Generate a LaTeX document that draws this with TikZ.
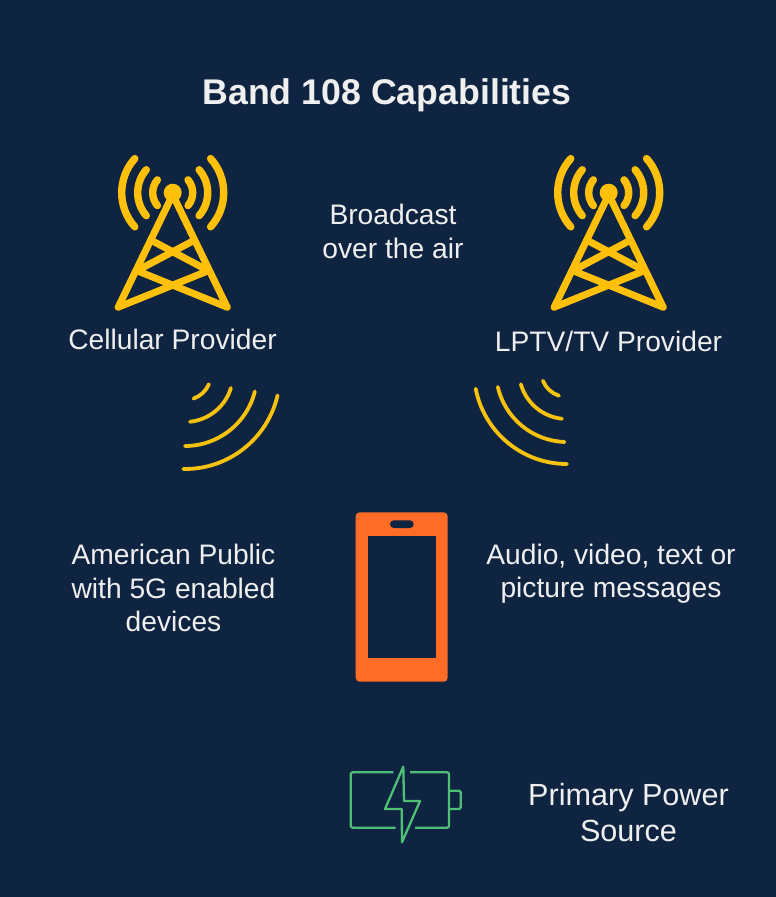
\documentclass[tikz,border=0pt]{standalone}
\usepackage{fontspec}
\setmainfont{Liberation Sans}
\definecolor{bgc}{HTML}{0E2440}
\definecolor{gold}{HTML}{FFC00A}
\definecolor{wave}{HTML}{F7C20E}
\definecolor{phone}{HTML}{FF6C25}
\definecolor{batt}{HTML}{4FBF76}
\definecolor{txt}{HTML}{EFEFEF}
\tikzset{
  lbl/.style={text=txt,align=center,font=\fontsize{28.2}{33.5}\selectfont,inner sep=0pt},
  big/.style={text=txt,align=center,font=\fontsize{30.6}{36}\selectfont,inner sep=0pt},
  ttl/.style={text=txt,align=center,font=\fontsize{35.7}{40}\selectfont\bfseries,inner sep=0pt},
  mast/.style={draw=gold,line width=7pt,line cap=round,line join=round},
  beam/.style={draw=gold,line width=7.4pt,line cap=round},
  wv/.style={draw=wave,line width=3.8pt,line cap=round},
  bat/.style={draw=batt,line width=2.3pt,line join=round},
  pics/tower/.style={code={
    \begin{scope}[yscale=-1]
    \fill[gold] (0,0) circle (9);
    \draw[mast] (-54.5,114.5) -- (0,2) -- (54.5,114.5);
    \draw[mast] (-54.5,114.5) -- (35.7,78) -- (-21.7,47.5);
    \draw[mast] (54.5,114.5) -- (-35.7,78) -- (21.7,47.5);
    \foreach \r/\a in {51/42,35/41,20/40}{
      \draw[beam] ({-\r*cos(\a)},{\r*sin(\a)}) arc[start angle=180-\a,end angle=180+\a,radius=\r];
      \draw[beam] ({\r*cos(\a)},{\r*sin(\a)}) arc[start angle=\a,end angle=-\a,radius=\r];
    }
    \end{scope}
  }}
}
\newcommand{\wavearc}[4]{\draw[wv] ([shift={(#3:#2)}]#1) arc[start angle=#3,end angle=#4,radius=#2];}
\begin{document}
\begin{tikzpicture}[x=1pt,y=1pt,yscale=-1]
\fill[bgc] (0,0) rectangle (776,897);
\useasboundingbox (0,0) rectangle (776,897);
\node[ttl] (title) at (387,95) {Band 108 Capabilities};
\pic at (172.7,192.7) {tower};
\pic at (608.7,192.7) {tower};
\node[lbl] (cell) at (172.5,339.5) {Cellular Provider};
\node[lbl] (lptv) at (608.5,341.5) {LPTV/TV Provider};
\node[lbl] (bcast) at (393,231.5) {Broadcast\\over the air};
\node[lbl] (public) at (173.5,588) {American Public\\with 5G enabled\\devices};
\node[lbl] (audio) at (611,573.5) {Audio, video, text or\\picture messages};
\node[big] (power) at (628.5,812.5) {Primary Power\\Source};
\coordinate (wl) at (185,374);
\coordinate (wr) at (567,371);
\wavearc{wl}{26}{23}{71}
\wavearc{wl}{48}{17}{84}
\wavearc{wl}{72}{14}{90}
\wavearc{wl}{95}{13}{91}
\wavearc{wr}{26}{158}{108}
\wavearc{wr}{48}{164}{96}
\wavearc{wr}{71}{167}{92}
\wavearc{wr}{93}{169}{90}
\fill[phone,rounded corners=4pt] (355.7,512.3) rectangle (447.7,681.7);
\fill[bgc] (367.7,535.7) rectangle (436.3,658.3);
\fill[bgc,rounded corners=3.8pt] (390,520.3) rectangle (413.7,528);
\draw[bat,rounded corners=2pt] (393.3,772.3) -- (350.7,772.3) -- (350.7,827.7) -- (395.7,827.7);
\draw[bat,rounded corners=2pt] (410,772.3) -- (449,772.3) -- (449,827.7) -- (415,827.7);
\draw[bat,rounded corners=1.5pt] (449,790.7) -- (460.7,790.7) -- (460.7,809) -- (449,809);
\draw[bat,miter limit=10] (403.3,766.7) -- (385,809) -- (401.7,809) -- (402,842.3) -- (420,801) -- (404,801) -- cycle;
\end{tikzpicture}
\end{document}
